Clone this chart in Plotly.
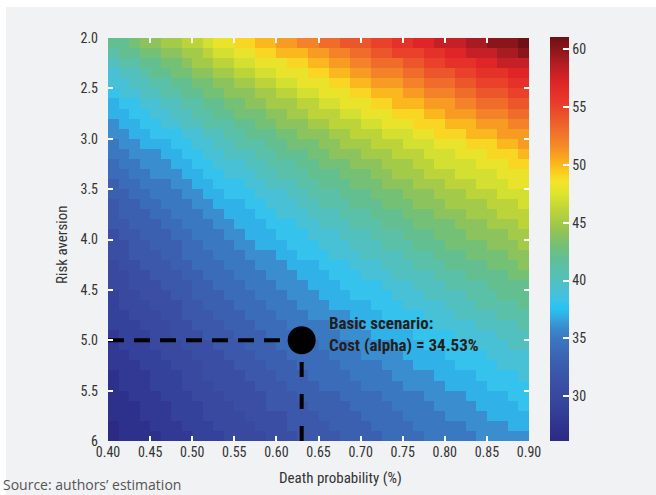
import plotly.graph_objects as go

# ---------------- data ----------------
# heatmap grid: 40 death-probability columns x 40 risk-aversion rows (cell centres)
death_prob_first = 0.40625
death_prob_step = 0.0125
risk_aversion_first = 2.05
risk_aversion_step = 0.1

# cost (alpha, %) by row (risk aversion 2.05 ... 5.95), columns = death prob 0.406 ... 0.894
cost_rows = [
    [42,42,43,44,44,45,45,46,46,47,48,48,49,49,50,50,51,51,52,52,53,53,54,54,54,55,55,56,56,57,57,58,58,58,59,59,60,60,60,61],
    [41,42,42,43,43,44,44,45,45,46,47,47,48,48,49,49,50,50,50,51,51,52,52,53,53,54,54,55,55,55,56,56,57,57,58,58,58,59,59,60],
    [40,41,41,42,42,43,43,44,45,45,46,46,47,47,48,48,48,49,49,50,50,51,51,52,52,53,53,53,54,54,55,55,56,56,56,57,57,58,58,58],
    [39,40,40,41,42,42,43,43,44,44,45,45,46,46,47,47,48,48,48,49,49,50,50,51,51,52,52,52,53,53,54,54,54,55,55,56,56,56,57,57],
    [39,39,40,40,41,41,42,42,43,43,44,44,45,45,46,46,47,47,48,48,48,49,49,50,50,51,51,51,52,52,53,53,53,54,54,55,55,55,56,56],
    [38,39,39,40,40,41,41,42,42,43,43,44,44,44,45,45,46,46,47,47,48,48,48,49,49,50,50,50,51,51,52,52,52,53,53,54,54,54,55,55],
    [37,38,38,39,39,40,40,41,41,42,42,43,43,44,44,45,45,45,46,46,47,47,48,48,48,49,49,50,50,50,51,51,51,52,52,53,53,53,54,54],
    [37,37,38,38,39,39,40,40,41,41,42,42,43,43,43,44,44,45,45,46,46,46,47,47,48,48,48,49,49,49,50,50,51,51,51,52,52,52,53,53],
    [36,37,37,38,38,39,39,40,40,41,41,41,42,42,43,43,44,44,44,45,45,46,46,46,47,47,48,48,48,49,49,49,50,50,50,51,51,51,52,52],
    [36,36,37,37,38,38,38,39,39,40,40,41,41,42,42,42,43,43,44,44,44,45,45,46,46,46,47,47,47,48,48,49,49,49,50,50,50,51,51,51],
    [35,36,36,37,37,37,38,38,39,39,40,40,41,41,41,42,42,43,43,43,44,44,45,45,45,46,46,46,47,47,47,48,48,48,49,49,49,50,50,51],
    [35,35,36,36,36,37,37,38,38,39,39,40,40,40,41,41,42,42,42,43,43,44,44,44,45,45,45,46,46,46,47,47,47,48,48,48,49,49,49,50],
    [34,35,35,36,36,36,37,37,38,38,39,39,39,40,40,41,41,41,42,42,43,43,43,44,44,44,45,45,45,46,46,47,47,47,47,48,48,48,49,49],
    [34,34,35,35,36,36,36,37,37,38,38,39,39,39,40,40,41,41,41,42,42,42,43,43,43,44,44,45,45,45,46,46,46,47,47,47,47,48,48,48],
    [33,34,34,35,35,35,36,36,37,37,38,38,38,39,39,40,40,40,41,41,42,42,42,43,43,43,44,44,44,45,45,45,46,46,46,47,47,47,48,48],
    [33,33,34,34,35,35,35,36,36,37,37,38,38,38,39,39,39,40,40,41,41,41,42,42,42,43,43,43,44,44,44,45,45,45,46,46,46,47,47,47],
    [32,33,33,34,34,35,35,35,36,36,37,37,37,38,38,39,39,39,40,40,41,41,41,42,42,42,43,43,43,44,44,44,45,45,45,45,46,46,46,47],
    [32,33,33,33,34,34,35,35,35,36,36,37,37,37,38,38,39,39,39,40,40,40,41,41,41,42,42,42,43,43,43,44,44,44,45,45,45,46,46,46],
    [32,32,33,33,33,34,34,35,35,35,36,36,37,37,37,38,38,38,39,39,40,40,40,41,41,41,42,42,42,43,43,43,43,44,44,44,45,45,45,46],
    [31,32,32,33,33,33,34,34,35,35,35,36,36,37,37,37,38,38,38,39,39,39,40,40,40,41,41,41,42,42,42,43,43,43,44,44,44,44,45,45],
    [31,31,32,32,33,33,33,34,34,35,35,35,36,36,37,37,37,38,38,38,39,39,39,40,40,40,41,41,41,42,42,42,43,43,43,43,44,44,44,45],
    [31,31,32,32,32,33,33,34,34,34,35,35,35,36,36,36,37,37,38,38,38,39,39,39,40,40,40,40,41,41,41,42,42,42,43,43,43,43,44,44],
    [30,31,31,32,32,32,33,33,34,34,34,35,35,35,36,36,36,37,37,37,38,38,38,39,39,39,40,40,40,41,41,41,42,42,42,42,43,43,43,44],
    [30,30,31,31,32,32,32,33,33,34,34,34,35,35,35,36,36,36,37,37,37,38,38,38,39,39,39,40,40,40,40,41,41,41,42,42,42,42,43,43],
    [30,30,31,31,31,32,32,32,33,33,34,34,34,35,35,35,36,36,36,37,37,37,38,38,38,38,39,39,39,40,40,40,41,41,41,41,42,42,42,42],
    [29,30,30,31,31,31,32,32,33,33,33,34,34,34,35,35,35,36,36,36,37,37,37,38,38,38,38,39,39,39,40,40,40,40,41,41,41,42,42,42],
    [29,30,30,30,31,31,31,32,32,33,33,33,34,34,34,35,35,35,36,36,36,37,37,37,37,38,38,38,39,39,39,39,40,40,40,41,41,41,41,42],
    [29,29,30,30,30,31,31,32,32,32,33,33,33,34,34,34,35,35,35,36,36,36,36,37,37,37,38,38,38,38,39,39,39,40,40,40,40,41,41,41],
    [29,29,29,30,30,30,31,31,32,32,32,33,33,33,34,34,34,35,35,35,35,36,36,36,37,37,37,37,38,38,38,39,39,39,39,40,40,40,40,41],
    [28,29,29,29,30,30,31,31,31,32,32,32,33,33,33,34,34,34,34,35,35,35,36,36,36,37,37,37,37,38,38,38,38,39,39,39,39,40,40,40],
    [28,29,29,29,30,30,30,31,31,31,32,32,32,33,33,33,34,34,34,34,35,35,35,36,36,36,36,37,37,37,38,38,38,38,39,39,39,39,40,40],
    [28,28,29,29,29,30,30,30,31,31,31,32,32,32,33,33,33,34,34,34,34,35,35,35,36,36,36,36,37,37,37,37,38,38,38,38,39,39,39,39],
    [28,28,28,29,29,29,30,30,30,31,31,31,32,32,32,33,33,33,34,34,34,34,35,35,35,35,36,36,36,37,37,37,37,38,38,38,38,39,39,39],
    [27,28,28,28,29,29,29,30,30,31,31,31,31,32,32,32,33,33,33,34,34,34,34,35,35,35,35,36,36,36,36,37,37,37,37,38,38,38,38,39],
    [27,28,28,28,29,29,29,30,30,30,31,31,31,31,32,32,32,33,33,33,34,34,34,34,35,35,35,35,36,36,36,36,37,37,37,37,38,38,38,38],
    [27,27,28,28,28,29,29,29,30,30,30,31,31,31,31,32,32,32,33,33,33,33,34,34,34,34,35,35,35,35,36,36,36,36,37,37,37,37,38,38],
    [27,27,27,28,28,28,29,29,29,30,30,30,31,31,31,32,32,32,32,33,33,33,33,34,34,34,34,35,35,35,35,36,36,36,36,37,37,37,37,38],
    [27,27,27,28,28,28,29,29,29,30,30,30,30,31,31,31,31,32,32,32,33,33,33,33,34,34,34,34,35,35,35,35,36,36,36,36,37,37,37,37],
    [26,27,27,27,28,28,28,29,29,29,30,30,30,30,31,31,31,32,32,32,32,33,33,33,33,34,34,34,34,35,35,35,35,35,36,36,36,36,37,37],
    [26,27,27,27,27,28,28,28,29,29,29,30,30,30,30,31,31,31,32,32,32,32,33,33,33,33,34,34,34,34,35,35,35,35,35,36,36,36,36,36],
]

x_tick_values = [0.40, 0.45, 0.50, 0.55, 0.60, 0.65, 0.70, 0.75, 0.80, 0.85, 0.90]
x_tick_labels = ["0.40", "0.45", "0.50", "0.55", "0.60", "0.65", "0.70", "0.75", "0.80", "0.85", "0.90"]
y_tick_values = [2.0, 2.5, 3.0, 3.5, 4.0, 4.5, 5.0, 5.5, 6.0]
y_tick_labels = ["2.0", "2.5", "3.0", "3.5", "4.0", "4.5", "5.0", "5.5", "6"]
colorbar_ticks = [30, 35, 40, 45, 50, 55, 60]
cost_min, cost_max = 26.1, 61.0

base_death_prob = 0.63
base_risk_aversion = 5.0
base_cost = 34.53

# ---------------- styling ----------------
W, H = 656, 495
ML, MR, MT, MB = 108, 127, 38, 54
PW, PH = W - ML - MR, H - MT - MB

def px(x):
    return (x - ML) / PW

def py(y):
    return (H - MB - y) / PH

NARROW = "Liberation Sans Narrow, Arial Narrow, Roboto Condensed, DejaVu Sans Condensed, sans-serif"
TXT = "#333333"
PANEL = "#f1f2f4"

colorscale = [
    [0.000, "#2c2a82"], [0.040, "#2f3590"], [0.083, "#35429b"], [0.140, "#3a4fa3"],
    [0.198, "#3b60b0"], [0.255, "#3b78c2"], [0.284, "#3a8ed0"], [0.307, "#33abe4"],
    [0.327, "#27c3f2"], [0.350, "#3ec2e8"], [0.378, "#4cc0d0"], [0.413, "#56c0b2"],
    [0.447, "#5fbf98"], [0.484, "#74c075"], [0.527, "#98c550"], [0.570, "#bcd43a"],
    [0.613, "#dfe42c"], [0.642, "#f3e42a"], [0.670, "#fcc81d"], [0.699, "#faa91e"],
    [0.728, "#f58d26"], [0.768, "#ef6e2b"], [0.805, "#ec522b"], [0.842, "#e8392a"],
    [0.885, "#e02527"], [0.928, "#b81e24"], [0.971, "#8a161b"], [1.000, "#6e1015"],
]

fig = go.Figure()

fig.add_trace(go.Heatmap(
    z=cost_rows,
    x0=death_prob_first, dx=death_prob_step,
    y0=risk_aversion_first, dy=risk_aversion_step,
    colorscale=colorscale, zmin=cost_min, zmax=cost_max,
    hoverinfo="skip",
    colorbar=dict(
        x=px(550), xanchor="left", xpad=0,
        y=0.5, yanchor="middle", ypad=0,
        len=(442 - 38) / PH, lenmode="fraction",
        thickness=19, outlinewidth=0,
        tickvals=colorbar_ticks,
        ticks="inside", ticklen=6, tickwidth=2, tickcolor="white",
        tickfont=dict(family=NARROW, size=14, color=TXT),
    ),
))

# dashed guide lines to the basic scenario
fig.add_trace(go.Scatter(
    x=[x_tick_values[0], base_death_prob], y=[base_risk_aversion, base_risk_aversion],
    mode="lines", line=dict(color="black", width=4, dash="16px,10px"),
    hoverinfo="skip", showlegend=False,
))
fig.add_trace(go.Scatter(
    x=[base_death_prob, base_death_prob], y=[y_tick_values[-1], base_risk_aversion],
    mode="lines", line=dict(color="black", width=4, dash="15px,17px"),
    hoverinfo="skip", showlegend=False,
))
fig.add_trace(go.Scatter(
    x=[base_death_prob], y=[base_risk_aversion], mode="markers",
    marker=dict(color="black", size=28, line=dict(width=0)),
    hoverinfo="skip", showlegend=False,
))

fig.add_annotation(
    x=base_death_prob, y=base_risk_aversion, xref="x", yref="y",
    text=f"<b>Basic scenario:<br>Cost (alpha) = {base_cost:.2f}%</b>",
    showarrow=False, xanchor="left", yanchor="middle", align="left",
    xshift=25, yshift=6,
    font=dict(family=NARROW, size=17, color="#231f20"),
)

# axis titles and source
fig.add_annotation(
    x=px(340), y=py(478), xref="paper", yref="paper", showarrow=False,
    text="Death probability (%)", xanchor="center", yanchor="middle",
    font=dict(family=NARROW, size=15, color=TXT),
)
fig.add_annotation(
    x=px(62), y=py(245), xref="paper", yref="paper", showarrow=False,
    text="Risk aversion", textangle=-90, xanchor="center", yanchor="middle",
    font=dict(family=NARROW, size=15, color=TXT),
)
fig.add_annotation(
    x=px(1), y=py(485), xref="paper", yref="paper", showarrow=False,
    text="Source: authors’ estimation", xanchor="left", yanchor="middle",
    font=dict(family="Open Sans, sans-serif", size=14, color="#555555"),
)

# light grey panel behind the chart (white strip at top and left)
fig.add_shape(
    type="rect", xref="paper", yref="paper",
    x0=px(6), x1=px(W + 2), y0=py(H + 2), y1=py(7),
    fillcolor=PANEL, line=dict(width=0), layer="below",
)

axis_common = dict(
    showgrid=False, zeroline=False, showline=False,
    ticks="inside", ticklen=5, tickwidth=2, tickcolor="white",
    mirror="ticks",
    tickfont=dict(family=NARROW, size=14, color=TXT),
)

fig.update_layout(
    width=W, height=H,
    margin=dict(l=ML, r=MR, t=MT, b=MB, autoexpand=False),
    paper_bgcolor="white", plot_bgcolor=PANEL,
    xaxis=dict(range=[0.40, 0.90], tickvals=x_tick_values, ticktext=x_tick_labels,
               ticklabelstandoff=1, **axis_common),
    yaxis=dict(range=[6.0, 2.0], tickvals=y_tick_values, ticktext=y_tick_labels,
               ticklabelstandoff=9, **axis_common),
    showlegend=False,
)

fig.write_html(
    "out.html",
    config={"displayModeBar": False},
    post_script="document.body.style.margin='0px'; document.body.style.overflow='hidden';",
)
